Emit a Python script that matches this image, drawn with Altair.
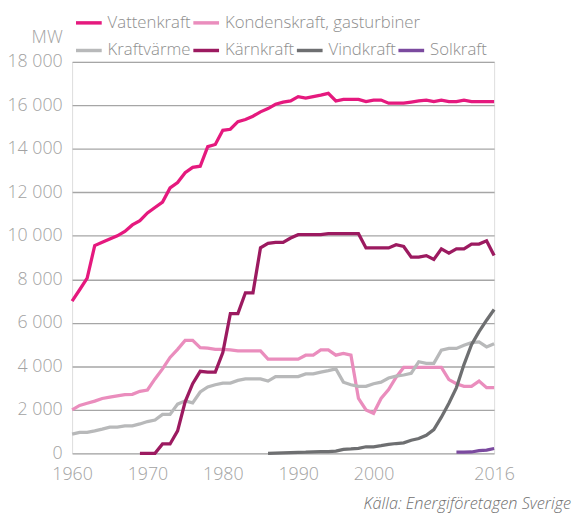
import altair as alt
import pandas as pd

# ---- data (MW) ----
vattenkraft_start = 1960
vattenkraft = [7000, 7520, 8050, 9550, 9700, 9850, 10000, 10200, 10500, 10700,
               11050, 11300, 11550, 12200, 12450, 12900, 13150, 13200, 14100, 14200,
               14850, 14900, 15250, 15350, 15500, 15700, 15850, 16050, 16150, 16200,
               16400, 16330, 16400, 16470, 16550, 16200, 16270, 16270, 16270, 16170,
               16240, 16240, 16100, 16100, 16100, 16150, 16200, 16240, 16170, 16240,
               16170, 16170, 16240, 16170, 16170, 16170, 16170]

kondenskraft_start = 1960
kondenskraft = [2000, 2200, 2300, 2400, 2520, 2580, 2640, 2700, 2710, 2850,
                2910, 3420, 3880, 4410, 4780, 5190, 5190, 4860, 4840, 4780,
                4780, 4750, 4710, 4710, 4710, 4710, 4330, 4330, 4330, 4330,
                4330, 4510, 4510, 4750, 4750, 4510, 4590, 4510, 2520, 1990,
                1840, 2520, 2930, 3500, 3950, 3950, 3950, 3950, 3950, 3950,
                3390, 3200, 3080, 3080, 3320, 3020, 3020]

kraftvarme_start = 1960
kraftvarme = [880, 960, 960, 1030, 1110, 1200, 1200, 1260, 1260, 1350,
              1460, 1530, 1790, 1790, 2260, 2410, 2320, 2820, 3050, 3150,
              3230, 3230, 3350, 3420, 3420, 3420, 3320, 3530, 3530, 3530,
              3530, 3650, 3650, 3730, 3800, 3880, 3270, 3150, 3080, 3080,
              3200, 3270, 3460, 3550, 3600, 3680, 4210, 4140, 4140, 4740,
              4820, 4820, 4970, 5090, 5120, 4890, 5040]

karnkraft_start = 1969
karnkraft = [0, 0, 0, 430, 430, 1030, 2370, 3200, 3770, 3730,
             3730, 4630, 6420, 6420, 7380, 7380, 9450, 9650, 9700, 9700,
             9900, 10050, 10050, 10050, 10050, 10100, 10100, 10100, 10100, 10100,
             9440, 9440, 9440, 9440, 9590, 9510, 9020, 9020, 9090, 8910,
             9400, 9200, 9400, 9400, 9620, 9620, 9770, 9090]

vindkraft_start = 1986
vindkraft = [0, 10, 20, 30, 40, 50, 70, 80, 80, 100,
             180, 200, 230, 300, 300, 350, 410, 450, 480, 600,
             680, 830, 1090, 1660, 2300, 3020, 4080, 4990, 5590, 6120,
             6610]

solkraft_start = 2011
solkraft = [50, 50, 60, 120, 150, 220]

group1 = ["Vattenkraft", "Kondenskraft, gasturbiner"]
group1_colors = ["#e5197e", "#ea8dbd"]
group2 = ["Kraftvärme", "Kärnkraft", "Vindkraft", "Solkraft"]
group2_colors = ["#b8b9ba", "#9c1a60", "#6e6f71", "#7b4a9f"]

x_ticks = [1960, 1970, 1980, 1990, 2000, 2016]
y_ticks = list(range(0, 18001, 2000))
source_text = "Källa: Energiföretagen Sverige"

series = [
    ("Vattenkraft", vattenkraft_start, vattenkraft),
    ("Kondenskraft, gasturbiner", kondenskraft_start, kondenskraft),
    ("Kraftvärme", kraftvarme_start, kraftvarme),
    ("Kärnkraft", karnkraft_start, karnkraft),
    ("Vindkraft", vindkraft_start, vindkraft),
    ("Solkraft", solkraft_start, solkraft),
]

rows = []
for name, start, vals in series:
    for i, v in enumerate(vals):
        rows.append({"år": start + i, "serie": name, "MW": v})
df = pd.DataFrame(rows)
df1 = df[df["serie"].isin(group1)]
df2 = df[df["serie"].isin(group2)]

FONT = "Open Sans"
AXIS_GRAY = "#a2a2a2"

x_enc = alt.X(
    "år:Q",
    scale=alt.Scale(domain=[1960, 2016], nice=False, zero=False),
    axis=alt.Axis(values=x_ticks, format="d", grid=False, domain=False, ticks=False,
                  labelFlush=False, labelPadding=13, labelFontSize=18,
                  labelColor=AXIS_GRAY, labelFont=FONT, labelFontWeight=300, title=None),
)
y_enc = alt.Y(
    "MW:Q",
    scale=alt.Scale(domain=[0, 18000], nice=False),
    axis=alt.Axis(values=y_ticks, labelExpr="replace(format(datum.value, ','), ',', ' ')",
                  grid=True, gridColor="#a6a6a6", gridWidth=1.3, domain=False, ticks=False,
                  labelPadding=10, labelFontSize=18, labelColor=AXIS_GRAY,
                  labelFont=FONT, labelFontWeight=300,
                  title="MW", titleAngle=0, titleAlign="right", titleBaseline="middle",
                  titleX=-10, titleY=-25, titleFontSize=18, titleFontWeight=300,
                  titleFont=FONT, titleColor=AXIS_GRAY),
)


def legend(y):
    return alt.Legend(orient="none", legendX=2, legendY=y, direction="horizontal",
                      title=None, symbolType="stroke", symbolSize=680,
                      symbolStrokeWidth=3.5, labelFontSize=17, labelFont=FONT,
                      labelFontWeight=300, labelColor="#8e8e8e", labelOffset=4,
                      columnPadding=-7, padding=0, labelLimit=400)


layer1 = alt.Chart(df1).mark_line(strokeWidth=3.3).encode(
    x=x_enc, y=y_enc,
    color=alt.Color("serie:N", scale=alt.Scale(domain=group1, range=group1_colors),
                    legend=legend(-54.5)),
)
layer2 = alt.Chart(df2).mark_line(strokeWidth=3.3).encode(
    x=x_enc, y=y_enc,
    color=alt.Color("serie:N", scale=alt.Scale(domain=group2, range=group2_colors),
                    legend=legend(-26.5)),
)

chart = alt.layer(layer1, layer2).resolve_scale(color="independent").properties(
    width=428,
    height=397,
    autosize=alt.AutoSizeParams(type="none"),
    padding={"left": 65, "top": 51, "right": 80, "bottom": 60},
    title=alt.TitleParams(source_text, orient="bottom", anchor="end", frame="group",
                          fontSize=16.5, fontStyle="italic", font=FONT, fontWeight=300,
                          color="#6f6f6f", dx=78, offset=13),
).configure_view(stroke=None).configure(background="white")

chart.save("out.html", embed_options={"renderer": "svg", "actions": False})
